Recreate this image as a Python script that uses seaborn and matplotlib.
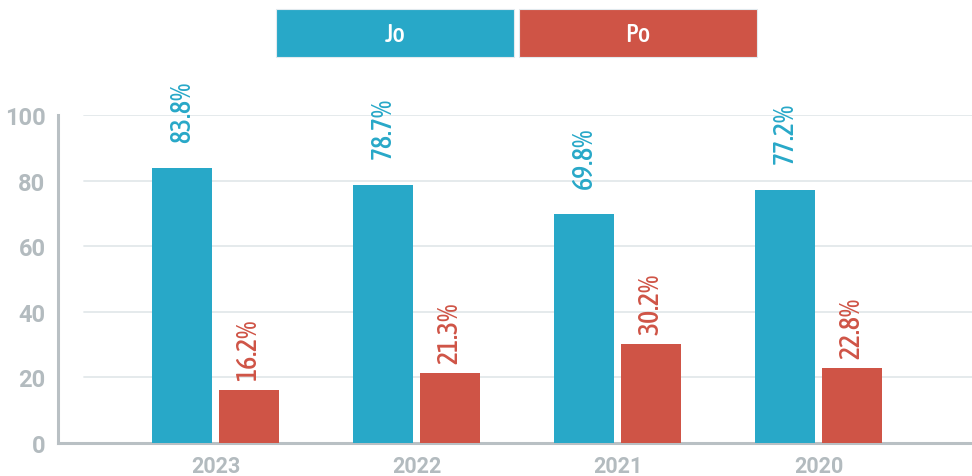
import matplotlib
matplotlib.use("Agg")
import matplotlib.pyplot as plt
from matplotlib import font_manager
from matplotlib.patches import Rectangle
import seaborn as sns
import pandas as pd

# ---- data -------------------------------------------------------------
years = ["2023", "2022", "2021", "2020"]
series = ["Jo", "Po"]
jo_values = [83.8, 78.7, 69.8, 77.2]
po_values = [16.2, 21.3, 30.2, 22.8]
y_ticks = [0, 20, 40, 60, 80, 100]

# ---- styling ----------------------------------------------------------
BLUE = "#28a8c8"
RED = "#cf5446"
AXIS_GREY = "#b9c0c4"
LABEL_GREY = "#b3bbbf"
GRID = "#e3e8eb"

sns.set_theme(style="white")
plt.rcParams["font.family"] = ["Roboto", "DejaVu Sans"]


def _weight(f):
    w = f.weight
    if isinstance(w, str):
        w = font_manager.weight_dict.get(w, 400)
    return w


def narrow_font(target_weight=500):
    """Pick an upright condensed face if one is installed."""
    entries = [f for f in font_manager.fontManager.ttflist
               if f.style == "normal"]

    def is_narrow(f):
        return (str(f.stretch) in ("condensed", "semi-condensed",
                                   "extra-condensed", "ultra-condensed")
                or "Narrow" in f.name or "Condensed" in f.name
                or "Narrow" in f.fname or "Condensed" in f.fname)

    cands = [f for f in entries if is_narrow(f)
             and "Italic" not in f.fname and "Oblique" not in f.fname]
    if not cands:
        return font_manager.FontProperties(family="DejaVu Sans")
    cands.sort(key=lambda f: abs(_weight(f) - target_weight))
    return font_manager.FontProperties(fname=cands[0].fname)


NARROW = narrow_font(500)

df = pd.DataFrame({
    "year": years * 2,
    "series": [series[0]] * len(years) + [series[1]] * len(years),
    "value": jo_values + po_values,
})

W, H = 972, 477
fig = plt.figure(figsize=(W / 100, H / 100), dpi=100)
ax = fig.add_axes([58 / W, 1 - 444 / H, (W - 58) / W, (444 - 116) / H])

sns.barplot(data=df, x="year", y="value", hue="series", order=years,
            hue_order=series, palette=[BLUE, RED], saturation=1,
            width=0.66, gap=0.095, legend=False, ax=ax, zorder=3,
            linewidth=0)

ax.set_ylim(0, 100)
ax.set_xlim(-0.784, 3.764)
ax.set_xlabel("")
ax.set_ylabel("")

# horizontal grid, starting a little right of the axis
for t in y_ticks[1:]:
    ax.axhline(t, xmin=26 / (W - 58), xmax=1, color=GRID, lw=1.3, zorder=1)

for side in ("top", "right"):
    ax.spines[side].set_visible(False)
for side in ("left", "bottom"):
    ax.spines[side].set_color(AXIS_GREY)
    ax.spines[side].set_linewidth(2.2)

ax.set_yticks(y_ticks)
ax.tick_params(axis="y", direction="in", length=10.8, width=1.8,
               color=AXIS_GREY, pad=9, labelsize=17, labelcolor=LABEL_GREY)
ax.tick_params(axis="x", length=0, pad=9, labelsize=15.5,
               labelcolor=LABEL_GREY)
for lab in ax.get_yticklabels() + ax.get_xticklabels():
    lab.set_fontweight("bold")

# value labels above each bar
for container, color, pad in zip(ax.containers, [BLUE, RED], [19, 7]):
    ax.bar_label(container,
                 labels=[f"{v:.1f}%" for v in container.datavalues],
                 rotation=90, padding=pad, color=color,
                 fontproperties=NARROW, fontsize=20, clip_on=False)

# legend: two coloured boxes at the top
for name, color, x0 in zip(series, [BLUE, RED], [276, 519]):
    fig.patches.append(Rectangle((x0 / W, 1 - 58 / H), 238 / W, 48 / H,
                                 transform=fig.transFigure, facecolor=color,
                                 edgecolor="#e2eaee", lw=0.8))
    fig.text((x0 + 119) / W, 1 - 35 / H, name, color="white",
             ha="center", va="center", fontproperties=NARROW, fontsize=19)

fig.savefig("out.png", dpi=100)
